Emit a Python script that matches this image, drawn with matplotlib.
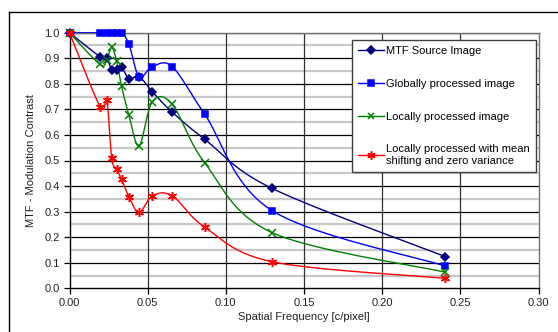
import numpy as np
import matplotlib
matplotlib.use("Agg")
import matplotlib.pyplot as plt
from matplotlib.lines import Line2D

plt.rcParams['font.family'] = ['Liberation Sans', 'DejaVu Sans']

freq = [0, 0.0195, 0.0238, 0.027, 0.0301, 0.0333, 0.038, 0.0445, 0.053, 0.0657, 0.0865, 0.1295, 0.2404]
mtf_source = [1.0, 0.906, 0.900, 0.854, 0.856, 0.865, 0.820, 0.828, 0.769, 0.689, 0.583, 0.391, 0.124]
mtf_global = [1.0, 1.0, 1.0, 1.0, 1.0, 1.0, 0.956, 0.828, 0.867, 0.867, 0.681, 0.304, 0.087]
mtf_local = [1.0, 0.876, 0.895, 0.943, 0.889, 0.791, 0.678, 0.558, 0.730, 0.720, 0.491, 0.218, 0.063]
mtf_local_mean = [1.0, 0.711, 0.737, 0.509, 0.466, 0.426, 0.358, 0.297, 0.361, 0.362, 0.239, 0.104, 0.039]

labels = ["MTF Source Image", "Globally processed image", "Locally processed image",
          "Locally processed with mean\nshifting and zero variance"]
colors = ["#000080", "#0000FF", "#008000", "#FF0000"]
markers = ["D", "s", "x", (6, 2, 0)]
msizes = [4.5, 5, 5.5, 6.5]

x_ticks = [0.00, 0.05, 0.10, 0.15, 0.20, 0.25, 0.30]
y_ticks = [0.0, 0.1, 0.2, 0.3, 0.4, 0.5, 0.6, 0.7, 0.8, 0.9, 1.0]

W, H = 558, 332
fig = plt.figure(figsize=(W / 100, H / 100), dpi=100)
ax = fig.add_axes([69.5 / W, 1 - 288.3 / H, (538.5 - 69.5) / W, (288.3 - 32.7) / H])

# outer chart-area frame
fig.add_artist(Line2D([9 / W, 9 / W], [0, 1 - 12 / H], transform=fig.transFigure, color="black", lw=1))
fig.add_artist(Line2D([9 / W, 1], [1 - 12 / H, 1 - 12 / H], transform=fig.transFigure, color="black", lw=1))


def smooth(xs, ys, sx=1566.0, sy=255.6, n=20):
    # Excel-like smoothed line (Catmull-Rom Bezier) computed in screen-proportional space
    P = np.column_stack([np.array(xs) * sx, np.array(ys) * sy])
    out = [P[0]]
    for i in range(len(P) - 1):
        p0 = P[i - 1] if i > 0 else P[i]
        p1 = P[i]
        p2 = P[i + 1]
        p3 = P[i + 2] if i + 2 < len(P) else P[i + 1]
        c1 = p1 + (p2 - p0) / 6.0
        c2 = p2 - (p3 - p1) / 6.0
        t = np.linspace(0, 1, n)[1:, None]
        seg = (1 - t) ** 3 * p1 + 3 * (1 - t) ** 2 * t * c1 + 3 * (1 - t) * t ** 2 * c2 + t ** 3 * p2
        out.extend(seg)
    out = np.array(out)
    return out[:, 0] / sx, out[:, 1] / sy


# gridlines
for v in np.arange(0.05, 1.0, 0.1):
    ax.axhline(v, color="#c8c8c8", lw=1.6, zorder=0)
for v in y_ticks[1:]:
    ax.axhline(v, color="black", lw=0.9, zorder=0.5)
for v in x_ticks[1:-1]:
    ax.axvline(v, color="#303030", lw=0.9, zorder=0.5)

series = [mtf_source, mtf_global, mtf_local, mtf_local_mean]
handles = []
for ys, lab, c, m, ms in zip(series, labels, colors, markers, msizes):
    sxv, syv = smooth(freq, ys)
    ax.plot(sxv, syv, color=c, lw=1.0, zorder=2, clip_on=False)
    ax.plot(freq, ys, linestyle="none", marker=m, color=c, markersize=ms,
            markeredgewidth=1.1, zorder=3, clip_on=False)
    handles.append(Line2D([], [], color=c, lw=1.0, marker=m, markersize=ms - 0.5, markeredgewidth=1.1))

ax.set_xlim(0, 0.30)
ax.set_ylim(0, 1.0)
ax.set_xticks(x_ticks)
ax.set_yticks(y_ticks)
ax.set_xticklabels([f"{v:.2f}" for v in x_ticks], fontsize=8)
ax.set_yticklabels([f"{v:.1f}" for v in y_ticks], fontsize=8)
ax.tick_params(direction="out", length=4, width=0.9, colors="black", labelcolor="#222222", pad=3)
for s in ["left", "bottom"]:
    ax.spines[s].set_color("black")
    ax.spines[s].set_linewidth(1)
for s in ["right", "top"]:
    ax.spines[s].set_color("#707070")
    ax.spines[s].set_linewidth(1)

ax.set_xlabel("Spatial Frequency [c/pixel]", fontsize=8, color="#222222", labelpad=3)
ax.set_ylabel("MTF - Modulation Contrast", fontsize=8, color="#222222", labelpad=6)

leg = ax.legend(handles, labels, loc="upper left", bbox_to_anchor=(352 / W, 1 - 40 / H),
                bbox_transform=fig.transFigure, fontsize=8, frameon=True, fancybox=False,
                edgecolor="#404040", framealpha=1, labelspacing=2.05, handlelength=2.3,
                handletextpad=0.2, borderpad=0.55, borderaxespad=0)
leg.get_frame().set_linewidth(1)
leg.set_zorder(5)

fig.savefig("out.png", dpi=100)
